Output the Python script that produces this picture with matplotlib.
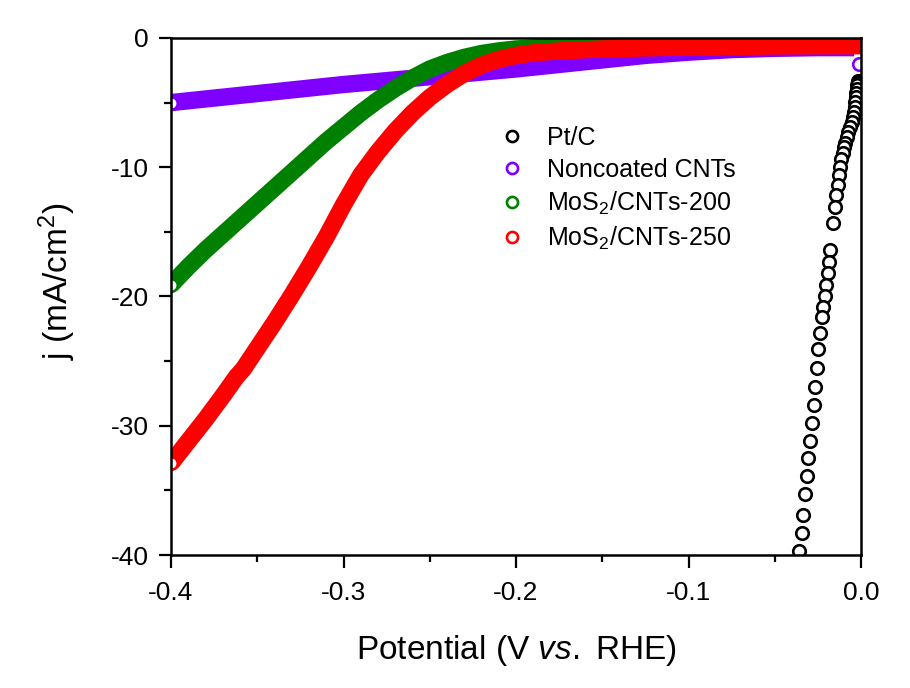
import matplotlib
matplotlib.use('Agg')
import matplotlib.pyplot as plt
from matplotlib.lines import Line2D

plt.rcParams['font.family'] = ['Liberation Sans', 'DejaVu Sans']
plt.rcParams['mathtext.fontset'] = 'custom'
plt.rcParams['mathtext.rm'] = 'Liberation Sans'
plt.rcParams['mathtext.it'] = 'Liberation Sans:italic'
plt.rcParams['axes.unicode_minus'] = False

# Pt/C (open black circles)
pt_v = [-0.0018, -0.0020, -0.0022, -0.0025, -0.0027, -0.0029, -0.0033, -0.0037, -0.0042, -0.0048,
        -0.0054, -0.0064, -0.0074, -0.0083, -0.0091, -0.0100, -0.0106, -0.0114, -0.0122, -0.0128,
        -0.0135, -0.0143, -0.0151, -0.0161, -0.0180, -0.0186, -0.0193, -0.0201, -0.0210, -0.0219,
        -0.0228, -0.0238, -0.0249, -0.0258, -0.0267, -0.0274, -0.0283, -0.0296, -0.0306, -0.0315,
        -0.0325, -0.0334, -0.0344, -0.0358]
pt_j = [-3.3, -3.5, -3.64, -3.97, -4.28, -4.59, -4.93, -5.32, -5.70, -6.09,
        -6.48, -6.86, -7.25, -7.68, -8.10, -8.46, -8.92, -9.38, -9.96, -10.6,
        -11.37, -12.15, -13.05, -14.34, -16.40, -17.31, -18.20, -19.1, -20.0, -20.8,
        -21.6, -22.8, -24.1, -25.5, -27.0, -28.4, -29.8, -31.2, -32.5, -33.9,
        -35.3, -36.9, -38.3, -39.7]

# Noncoated CNTs
cnt_v = [-0.400, -0.375, -0.350, -0.325, -0.300, -0.275, -0.250, -0.225, -0.200, -0.175,
         -0.150, -0.125, -0.100, -0.075, -0.050, -0.025, -0.004, -0.001]
cnt_j = [-5.0, -4.65, -4.3, -3.95, -3.6, -3.3, -3.0, -2.7, -2.4, -2.05,
         -1.7, -1.35, -1.1, -0.9, -0.8, -0.75, -0.75, -2.0]

# MoS2/CNTs-200
m200_v = [-0.400, -0.390, -0.380, -0.370, -0.360, -0.350, -0.340, -0.330, -0.320, -0.310,
          -0.300, -0.290, -0.280, -0.270, -0.260, -0.250, -0.240, -0.230, -0.220, -0.210,
          -0.200, -0.180, -0.150, -0.100, -0.050, 0.000]
m200_j = [-19.1, -17.7, -16.4, -15.2, -14.0, -12.8, -11.6, -10.4, -9.2, -8.0,
          -6.9, -5.8, -4.8, -3.9, -3.1, -2.4, -1.9, -1.5, -1.2, -1.0,
          -0.85, -0.7, -0.6, -0.55, -0.5, -0.5]

# MoS2/CNTs-250
m250_v = [-0.400, -0.390, -0.380, -0.370, -0.362, -0.358, -0.350, -0.340, -0.330, -0.320,
          -0.310, -0.300, -0.290, -0.280, -0.270, -0.260, -0.250, -0.240, -0.230, -0.220,
          -0.210, -0.200, -0.190, -0.175, -0.150, -0.120, -0.090, -0.050, -0.020, 0.000]
m250_j = [-32.9, -31.2, -29.5, -27.7, -26.2, -25.6, -24.0, -22.0, -19.9, -17.7,
          -15.4, -12.9, -10.6, -8.8, -7.2, -5.8, -4.6, -3.6, -2.75, -2.1,
          -1.65, -1.35, -1.15, -1.0, -0.85, -0.75, -0.68, -0.62, -0.6, -0.6]

labels = ['Pt/C', 'Noncoated CNTs', r'MoS$_2$/CNTs-200', r'MoS$_2$/CNTs-250']
colors = ['black', '#8000ff', '#008000', '#ff0000']

fig = plt.figure(figsize=(9.1, 6.88), dpi=100)
ax = fig.add_axes([0.1879, 0.1933, 0.7583, 0.7515])

# the dense circle trails look like solid bands; open circle left at the -0.4 V end
ax.plot(cnt_v[:-1], cnt_j[:-1], color=colors[1], lw=12.5, solid_capstyle='butt', solid_joinstyle='round')
ax.plot(cnt_v[:1], cnt_j[:1], 'o', mfc='white', mec=colors[1], ms=9, mew=1.9)
ax.plot(cnt_v[-1:], cnt_j[-1:], 'o', mfc='white', mec=colors[1], ms=9, mew=1.9)

for v, j, c in [(m200_v, m200_j, colors[2]), (m250_v, m250_j, colors[3])]:
    ax.plot(v, j, color=c, lw=12.5, solid_capstyle='butt', solid_joinstyle='round')
    ax.plot(v[:1], j[:1], 'o', mfc='white', mec=c, ms=9, mew=1.9)

ax.plot(pt_v, pt_j, 'o', mfc='white', mec='black', ms=9, mew=1.9, ls='none')

ax.set_xlim(-0.4, 0.0)
ax.set_ylim(-40, 0)
ax.set_xticks([-0.4, -0.3, -0.2, -0.1, 0.0])
ax.set_xticklabels(['-0.4', '-0.3', '-0.2', '-0.1', '0.0'])
ax.set_xticks([-0.35, -0.25, -0.15, -0.05], minor=True)
ax.set_yticks([0, -10, -20, -30, -40])
ax.set_yticklabels(['0', '-10', '-20', '-30', '-40'])
ax.set_yticks([-5, -15, -25, -35], minor=True)
ax.tick_params(which='major', direction='out', length=9, width=1.6, labelsize=19, pad=7)
ax.tick_params(axis='x', which='major', pad=10)
ax.tick_params(which='minor', direction='out', length=5, width=1.6)
for s in ax.spines.values():
    s.set_linewidth(1.8)

ax.set_xlabel(r'Potential (V $\it{vs.}$ RHE)', fontsize=24, labelpad=20)
ax.set_ylabel(r'j (mA/cm$^2$)', fontsize=24)
ax.yaxis.set_label_coords(-0.135, 0.53)

handles = [Line2D([], [], ls='none', marker='o', mfc='white', mec=c, ms=8, mew=1.9) for c in colors]
ax.legend(handles, labels, loc='upper left', bbox_to_anchor=(0.476, 0.83), frameon=False,
          fontsize=18, handlelength=1.0, handletextpad=0.9, labelspacing=0.31, borderpad=0,
          borderaxespad=0)

fig.savefig('out.png', dpi=100)
